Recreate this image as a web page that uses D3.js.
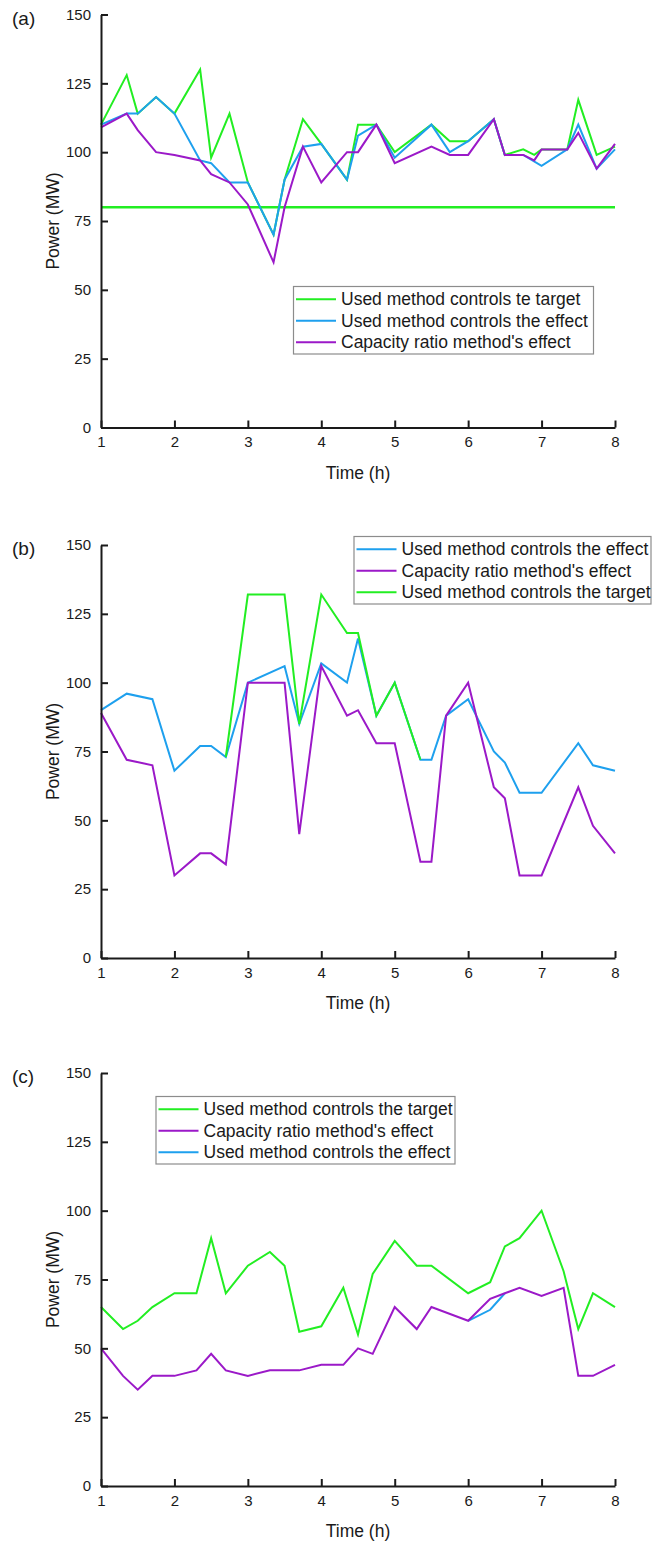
<!DOCTYPE html>
<html>
<head>
<meta charset="utf-8">
<script src="https://cdn.jsdelivr.net/npm/d3@7"></script>
<style>
  html, body { margin: 0; padding: 0; background: #fff; }
  svg { display: block; font-family: Arial, "Liberation Sans", sans-serif; }
</style>
</head>
<body>
<svg id="chart" width="653" height="1542"></svg>
<script>
// ---- data ----------------------------------------------------------------
const yTicks = [0, 25, 50, 75, 100, 125, 150];
const xTicks = [1, 2, 3, 4, 5, 6, 7, 8];

// Panel (a)
const hoursA  = [1, 1.35, 1.5, 1.75, 2, 2.35, 2.5, 2.75, 3, 3.35, 3.5, 3.75, 4, 4.35, 4.5, 4.75, 5, 5.5, 5.75, 6, 6.35, 6.5, 6.75, 6.9, 7, 7.35, 7.5, 7.75, 8];
const targetA = [110, 128, 114, 120, 114, 130, 98, 114, 89, 70, 90, 112, 103, 90, 110, 110, 100, 110, 104, 104, 112, 99, 101, 99, 101, 101, 119, 99, 102];
const effectA = [110, 114, 114, 120, 114, 97, 96, 89, 89, 70, 90, 102, 103, 90, 106, 110, 98, 110, 100, 104, 112, 99, 99, null, 95, 101, 110, 94, 101];
const ratioA  = [109, 114, 108, 100, 99, 97, 92, 89, 81, 60, 80, 102, 89, 100, 100, 110, 96, 102, 99, 99, 112, 99, 99, 97, 101, 101, 107, 94, 103];
const limitA  = 80;

// Panel (b)
const hoursB  = [1, 1.35, 1.7, 2, 2.35, 2.5, 2.7, 3, 3.5, 3.7, 4, 4.35, 4.5, 4.75, 5, 5.35, 5.5, 5.7, 6, 6.35, 6.5, 6.7, 7, 7.5, 7.7, 8];
const effectB = [90, 96, 94, 68, 77, 77, 73, 100, 106, 85, 107, 100, 116, 88, 100, 72, 72, 88, 94, 75, 71, 60, 60, 78, 70, 68];
const ratioB  = [89, 72, 70, 30, 38, 38, 34, 100, 100, 45, 106, 88, 90, 78, 78, 35, 35, 88, 100, 62, 58, 30, 30, 62, 48, 38];
const targetB = [null, null, null, null, null, null, 73, 132, 132, 85, 132, 118, 118, 88, 100, 72, null, null, null, null, null, null, null, null, null, null];

// Panel (c)
const hoursC  = [1, 1.3, 1.5, 1.7, 2, 2.3, 2.5, 2.7, 3, 3.3, 3.5, 3.7, 4, 4.3, 4.5, 4.7, 5, 5.3, 5.5, 6, 6.3, 6.5, 6.7, 7, 7.3, 7.5, 7.7, 8];
const targetC = [65, 57, 60, 65, 70, 70, 90, 70, 80, 85, 80, 56, 58, 72, 55, 77, 89, 80, 80, 70, 74, 87, 90, 100, 78, 57, 70, 65];
const ratioC  = [50, 40, 35, 40, 40, 42, 48, 42, 40, 42, 42, 42, 44, 44, 50, 48, 65, 57, 65, 60, 68, 70, 72, 69, 72, 40, 40, 44];
const effectC = [null, null, null, null, null, null, null, null, null, null, null, null, null, null, null, null, null, null, null, 60, 64, 70, null, null, null, null, null, null];

// Legend captions
const labelTargetTypo = "Used method controls te target";
const labelTarget = "Used method controls the target";
const labelEffect = "Used method controls the effect";
const labelRatio  = "Capacity ratio method's effect";

// ---- styling / layout ------------------------------------------------------
const COLORS = { target: "#22ee22", effect: "#1ea0ee", ratio: "#9b19c8" };
const LINE_W = 2;
const plotLeft = 101, plotRight = 615, plotH = 413;

const panels = [
  {
    tag: "(a)", top: 14.5, hours: hoursA,
    series: [
      { key: "target", values: targetA },
      { key: "effect", values: effectA },
      { key: "ratio",  values: ratioA }
    ],
    level: { key: "target", value: limitA },
    legend: { x: 293.5, y: 286.5, w: 300, rows: [
      { key: "target", text: labelTargetTypo },
      { key: "effect", text: labelEffect },
      { key: "ratio",  text: labelRatio } ] }
  },
  {
    tag: "(b)", top: 545, hours: hoursB,
    series: [
      { key: "effect", values: effectB },
      { key: "ratio",  values: ratioB },
      { key: "target", values: targetB }
    ],
    legend: { x: 354, y: 536.5, w: 297, rows: [
      { key: "effect", text: labelEffect },
      { key: "ratio",  text: labelRatio },
      { key: "target", text: labelTarget } ] }
  },
  {
    tag: "(c)", top: 1073, hours: hoursC,
    series: [
      { key: "target", values: targetC },
      { key: "effect", values: effectC },
      { key: "ratio",  values: ratioC }
    ],
    legend: { x: 156, y: 1096.5, w: 299, rows: [
      { key: "target", text: labelTarget },
      { key: "ratio",  text: labelRatio },
      { key: "effect", text: labelEffect } ] }
  }
];

const svg = d3.select("#chart");
const x = d3.scaleLinear().domain([1, 8]).range([plotLeft, plotRight]);

panels.forEach(p => {
  const y = d3.scaleLinear().domain([0, 150]).range([p.top + plotH, p.top]);
  const g = svg.append("g");

  // horizontal reference level
  if (p.level) {
    g.append("path")
      .datum(x.domain())
      .attr("fill", "none")
      .attr("stroke", COLORS[p.level.key])
      .attr("stroke-width", LINE_W + 0.5)
      .attr("d", d3.line().x(d => x(d)).y(() => y(p.level.value)));
  }

  // series lines
  const line = d3.line().x(d => x(d.h)).y(d => y(d.v));
  p.series.forEach(s => {
    const pts = p.hours.map((h, i) => ({ h, v: s.values[i] })).filter(d => d.v != null);
    g.append("path")
      .datum(pts)
      .attr("fill", "none")
      .attr("stroke", COLORS[s.key])
      .attr("stroke-width", LINE_W)
      .attr("stroke-linejoin", "miter")
      .attr("d", line);
  });

  // axes
  const yAxis = g.append("g")
    .attr("transform", `translate(${plotLeft},0)`)
    .call(d3.axisLeft(y).tickValues(yTicks).tickSizeInner(-7).tickSizeOuter(0).tickPadding(10));
  const xAxis = g.append("g")
    .attr("transform", `translate(0,${p.top + plotH})`)
    .call(d3.axisBottom(x).tickValues(xTicks).tickFormat(d3.format("d")).tickSizeInner(-7).tickSizeOuter(0).tickPadding(9));
  [yAxis, xAxis].forEach(a => {
    a.select(".domain").attr("stroke", "#1a1a1a").attr("stroke-width", 2);
    a.selectAll(".tick line").attr("stroke", "#1a1a1a").attr("stroke-width", 2);
    a.selectAll(".tick text").attr("fill", "#1a1a1a").style("font-size", "15px")
      .style("font-family", "Arial, 'Liberation Sans', sans-serif");
  });

  // axis titles
  g.append("text")
    .attr("transform", `translate(53,${p.top + plotH / 2}) rotate(-90)`)
    .attr("text-anchor", "middle")
    .attr("dy", "0.35em")
    .attr("fill", "#1a1a1a")
    .style("font-size", "17.5px")
    .text("Power (MW)");
  g.append("text")
    .attr("x", (plotLeft + plotRight) / 2)
    .attr("y", p.top + plotH + 45)
    .attr("text-anchor", "middle")
    .attr("dy", "0.35em")
    .attr("fill", "#1a1a1a")
    .style("font-size", "17.5px")
    .text("Time (h)");

  // panel tag
  g.append("text")
    .attr("x", 12)
    .attr("y", p.top + 3.5)
    .attr("dy", "0.35em")
    .attr("fill", "#1a1a1a")
    .style("font-size", "19px")
    .text(p.tag);

  // legend
  const L = p.legend, rowH = 21.5;
  const lg = g.append("g").attr("transform", `translate(${L.x},${L.y})`);
  lg.append("rect")
    .attr("width", L.w).attr("height", 67.5)
    .attr("fill", "#fff").attr("stroke", "#8c8c8c").attr("stroke-width", 1.2);
  L.rows.forEach((r, i) => {
    const ry = 12.8 + i * rowH;
    lg.append("line")
      .attr("x1", 2.5).attr("x2", 42.5).attr("y1", ry).attr("y2", ry)
      .attr("stroke", COLORS[r.key]).attr("stroke-width", LINE_W);
    lg.append("text")
      .attr("x", 47.5).attr("y", ry).attr("dy", "0.35em")
      .attr("fill", "#1a1a1a")
      .style("font-size", "17.5px")
      .text(r.text);
  });
});
</script>
</body>
</html>
